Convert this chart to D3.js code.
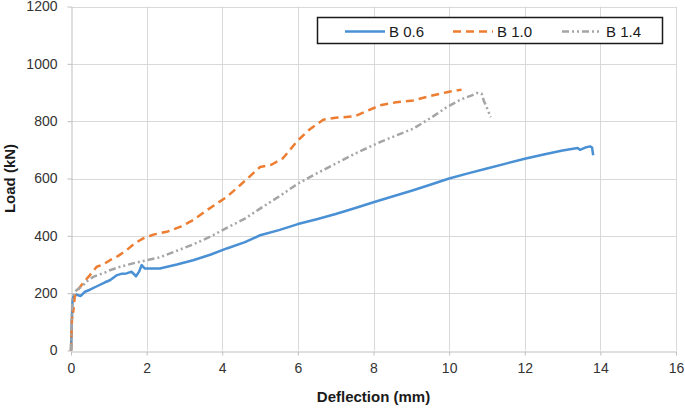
<!DOCTYPE html>
<html>
<head>
<meta charset="utf-8">
<script src="https://cdn.jsdelivr.net/npm/d3@7/dist/d3.min.js"></script>
<style>
  html, body { margin: 0; padding: 0; background: #fff; }
  svg { display: block; font-family: "Liberation Sans", Arial, sans-serif; }
</style>
</head>
<body>
<svg id="chart" width="685" height="408"></svg>
<script>
// ---- Data ----
const xTicks = [0, 2, 4, 6, 8, 10, 12, 14, 16];
const yTicks = [0, 200, 400, 600, 800, 1000, 1200];
const seriesNames = ["B 0.6", "B 1.0", "B 1.4"];

const b06X = [0, 0.02, 0.04, 0.06, 0.15, 0.25, 0.37, 0.5, 0.7, 0.9, 1.03, 1.2, 1.35, 1.47, 1.6, 1.72, 1.8, 1.87, 1.95, 2.0, 2.35, 2.8, 3.23, 3.7, 4.12, 4.6, 5.0, 5.5, 6.0, 6.5, 7.0, 7.5, 8.0, 8.5, 9.05, 9.5, 10.0, 10.5, 11.0, 11.5, 12.0, 12.5, 13.0, 13.28, 13.4, 13.46, 13.6, 13.73, 13.78, 13.81];
const b06Y = [0, 100, 170, 187, 195, 190, 205, 212, 225, 238, 245, 262, 268, 269, 275, 259, 275, 298, 286, 286, 286, 300, 315, 335, 356, 378, 402, 420, 441, 458, 476, 496, 517, 537, 559, 578, 600, 618, 635, 652, 669, 684, 698, 704, 706, 700, 708, 712, 708, 681];

const b10X = [0, 0.02, 0.04, 0.06, 0.08, 0.1, 0.2, 0.35, 0.5, 0.68, 0.85, 1.03, 1.25, 1.47, 1.7, 1.91, 2.2, 2.53, 2.9, 3.23, 3.6, 4.12, 4.5, 5.0, 5.3, 5.6, 6.0, 6.3, 6.67, 7.0, 7.5, 8.17, 8.6, 9.05, 9.5, 9.94, 10.33];
const b10Y = [0, 90, 141, 135, 160, 190, 215, 240, 263, 292, 300, 315, 330, 350, 375, 391, 405, 414, 432, 455, 490, 536, 580, 640, 648, 670, 733, 770, 805, 812, 817, 855, 866, 872, 888, 901, 910];

const b14X = [0, 0.02, 0.04, 0.08, 0.15, 0.3, 0.45, 0.59, 0.75, 0.9, 1.03, 1.25, 1.47, 1.7, 1.91, 2.35, 2.8, 3.23, 3.7, 4.12, 4.6, 5.0, 5.5, 6.0, 6.5, 7.0, 7.5, 8.17, 8.6, 9.05, 9.5, 9.94, 10.3, 10.6, 10.73, 10.86, 10.92, 10.99, 11.1];
const b14Y = [0, 110, 185, 200, 211, 225, 245, 257, 265, 272, 280, 290, 298, 306, 312, 325, 348, 370, 398, 428, 460, 495, 537, 582, 618, 652, 686, 727, 750, 774, 810, 849, 875, 890, 898, 896, 870, 849, 814];

const colors = ["#4a90d4", "#ed7d31", "#a5a5a5"];
const dashes = [null, "8,5", "7,3,2,3,2,3"];

// ---- Layout ----
const svg = d3.select("#chart");
const margin = { left: 71, right: 9, top: 6.5, bottom: 57.5 };
const W = 685, H = 408;
const x = d3.scaleLinear().domain([0, 16]).range([margin.left, W - margin.right]);
const y = d3.scaleLinear().domain([0, 1200]).range([H - margin.bottom, margin.top]);

// gridlines
svg.append("g").selectAll("line.h").data(yTicks.slice(1)).join("line")
  .attr("x1", x(0)).attr("x2", x(16))
  .attr("y1", d => Math.round(y(d)) + 0.5).attr("y2", d => Math.round(y(d)) + 0.5)
  .attr("stroke", "#d9d9d9").attr("stroke-width", 1);
svg.append("g").selectAll("line.v").data(xTicks.slice(1)).join("line")
  .attr("x1", d => Math.round(x(d)) + 0.5).attr("x2", d => Math.round(x(d)) + 0.5)
  .attr("y1", y(0)).attr("y2", y(1200))
  .attr("stroke", "#d9d9d9").attr("stroke-width", 1);

// axes
const fmt = d3.format("d");
const xAxis = svg.append("g").attr("transform", `translate(0,${Math.round(y(0)) + 0.5})`)
  .call(d3.axisBottom(x).tickValues(xTicks).tickFormat(fmt).tickSize(4).tickPadding(8).tickSizeOuter(0));
const yAxis = svg.append("g").attr("transform", `translate(${Math.round(x(0)) + 0.5},0)`)
  .call(d3.axisLeft(y).tickValues(yTicks).tickFormat(fmt).tickSize(4).tickPadding(10).tickSizeOuter(0));
[xAxis, yAxis].forEach(g => {
  g.select(".domain").attr("stroke", "#bfbfbf");
  g.selectAll(".tick line").attr("stroke", "#bfbfbf");
  g.selectAll(".tick text").attr("fill", "#333333").style("font-size", "14px")
    .style("font-family", "'Liberation Sans', Arial, sans-serif");
});

// series lines
const line = d3.line().x(d => x(d[0])).y(d => y(d[1]));
const seriesData = [
  d3.zip(b06X, b06Y),
  d3.zip(b10X, b10Y),
  d3.zip(b14X, b14Y)
];
seriesData.forEach((pts, i) => {
  svg.append("path").datum(pts)
    .attr("d", line)
    .attr("fill", "none")
    .attr("stroke", colors[i])
    .attr("stroke-width", 2.5)
    .attr("stroke-linejoin", "round")
    .attr("stroke-dasharray", dashes[i]);
});

// axis titles
svg.append("text")
  .attr("x", x(8)).attr("y", 402)
  .attr("text-anchor", "middle")
  .attr("font-weight", "bold").attr("font-size", 15).attr("fill", "#1a1a1a")
  .text("Deflection (mm)");
svg.append("text")
  .attr("transform", `translate(15,${(y(0) + y(1200)) / 2}) rotate(-90)`)
  .attr("text-anchor", "middle")
  .attr("font-weight", "bold").attr("font-size", 15).attr("fill", "#1a1a1a")
  .text("Load (kN)");

// legend
const leg = svg.append("g");
leg.append("rect").attr("x", 317.5).attr("y", 17.5).attr("width", 345).attr("height", 26)
  .attr("fill", "#fff").attr("stroke", "#1a1a1a").attr("stroke-width", 1.5);
const legX = [345, 453, 562];
seriesNames.forEach((name, i) => {
  leg.append("line")
    .attr("x1", legX[i]).attr("x2", legX[i] + 40)
    .attr("y1", 31.5).attr("y2", 31.5)
    .attr("stroke", colors[i]).attr("stroke-width", 2.5)
    .attr("stroke-dasharray", dashes[i]);
  leg.append("text")
    .attr("x", legX[i] + 44).attr("y", 37)
    .attr("font-size", 15).attr("fill", "#1a1a1a")
    .text(name);
});
</script>
</body>
</html>
